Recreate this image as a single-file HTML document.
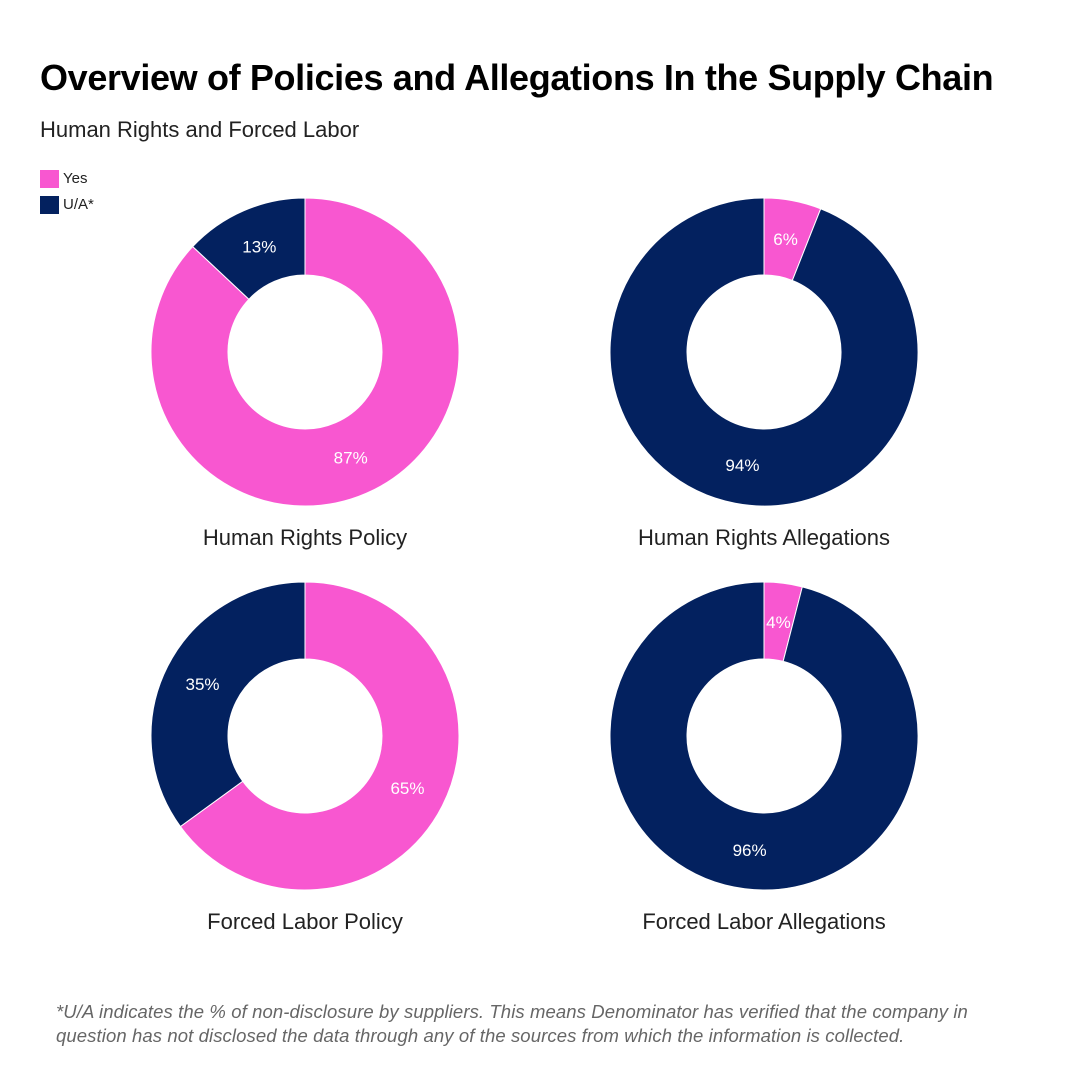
<!DOCTYPE html>
<html><head><meta charset="utf-8"><style>
body{margin:0;background:#fff;font-family:"Liberation Sans",sans-serif;}
#wrap{position:relative;width:1080px;height:1080px;overflow:hidden;}
.t{position:absolute;white-space:nowrap;}
</style></head><body>
<div id="wrap">
<div class="t" style="left:40px;top:57px;font-size:36px;font-weight:bold;color:#000;letter-spacing:-0.35px">Overview of Policies and Allegations In the Supply Chain</div>
<div class="t" style="left:40px;top:117px;font-size:22px;color:#222">Human Rights and Forced Labor</div>
<div>
<div><div style="position:absolute;left:40px;top:170px;width:19px;height:18px;background:#F857D0"></div><div class="t" style="left:63px;top:170px;font-size:15px;color:#222">Yes</div></div>
<div><div style="position:absolute;left:40px;top:196px;width:19px;height:18px;background:#03215F"></div><div class="t" style="left:63px;top:196px;font-size:15px;color:#222">U/A*</div></div>
</div>
<svg id="svg" width="1080" height="1080" style="position:absolute;left:0;top:0"></svg>
<div class="t" style="left:56px;top:1000px;font-size:18.5px;font-style:italic;color:#666;line-height:24px;letter-spacing:0.1px">*U/A indicates the % of non-disclosure by suppliers. This means Denominator has verified that the company in<br>question has not disclosed the data through any of the sources from which the information is collected.</div>
</div>
<script>
const categories=["Human Rights Policy","Human Rights Allegations","Forced Labor Policy","Forced Labor Allegations"];
const yesValues=[87,6,65,4];
const uaValues=[13,94,35,96];
const NS="http://www.w3.org/2000/svg";
const svg=document.getElementById('svg');
const centers=[[305,352],[764,352],[305,736],[764,736]];
const R=154,r=77,LR=115;
function pt(cx,cy,rad,a){return [cx+rad*Math.sin(a),cy-rad*Math.cos(a)];}
function arc(cx,cy,a0,a1){
  const large=(a1-a0)>Math.PI?1:0;
  const p0=pt(cx,cy,R,a0),p1=pt(cx,cy,R,a1),q1=pt(cx,cy,r,a1),q0=pt(cx,cy,r,a0);
  return `M${p0}A${R},${R} 0 ${large} 1 ${p1}L${q1}A${r},${r} 0 ${large} 0 ${q0}Z`;
}
categories.forEach((c,i)=>{
  const [cx,cy]=centers[i];
  const tot=yesValues[i]+uaValues[i];
  let a=0;
  [[yesValues[i],'#F857D0','yes'],[uaValues[i],'#03215F','ua']].forEach(([v,col,k])=>{
    const a1=a+v/tot*2*Math.PI;
    const p=document.createElementNS(NS,'path');
    p.setAttribute('d',arc(cx,cy,a,a1));
    p.setAttribute('fill',col);p.setAttribute('stroke','#fff');p.setAttribute('stroke-width','1');
    
    
    svg.appendChild(p);
    const m=pt(cx,cy,LR,(a+a1)/2);
    const t=document.createElementNS(NS,'text');
    t.setAttribute('x',m[0]);t.setAttribute('y',m[1]+6);
    t.setAttribute('text-anchor','middle');t.setAttribute('font-size','17');t.setAttribute('fill','#fff');
    t.setAttribute('font-family','Liberation Sans, sans-serif');
    t.textContent=v+'%';
    
    
    svg.appendChild(t);
    a=a1;
  });
  const lt=document.createElementNS(NS,'text');
  lt.setAttribute('x',cx);lt.setAttribute('y',cy+193);
  lt.setAttribute('text-anchor','middle');lt.setAttribute('font-size','22');lt.setAttribute('fill','#222');
  lt.setAttribute('font-family','Liberation Sans, sans-serif');
  lt.textContent=c;
  
  
  svg.appendChild(lt);
});
</script>
</body></html>
